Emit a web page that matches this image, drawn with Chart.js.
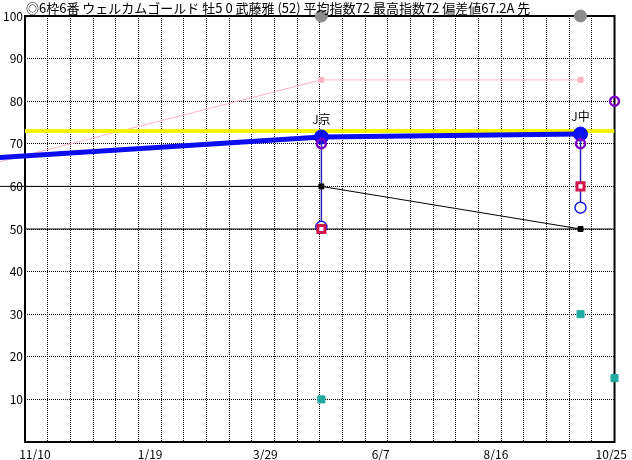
<!DOCTYPE html>
<html>
<head>
<meta charset="utf-8">
<script src="https://cdn.jsdelivr.net/npm/chart.js@4/dist/chart.umd.min.js"></script>
<style>
  html, body { margin: 0; padding: 0; background: #fff; }
  canvas { display: block; }
</style>
</head>
<body>
<canvas id="indexChart" width="632" height="460"></canvas>
<script>
// Days counted from 11/4 (left edge of the plot)
const titleText = '◎6枠6番 ウェルカムゴールド 牡5 0 武藤雅 (52) 平均指数72 最高指数72 偏差値67.2A 先';
const prevDay = -63;          // earlier race, off the left edge
const raceDays = [183, 343];
const nowDay = 364;
const raceLabels = ['J京', 'J中'];

const prevIndex = 65.6;
const raceIndex = [71.6, 72.3];     // thick blue line
const rangeLow = [50.5, 55];        // open blue circles
const purpleVals = [70, 70, 80];    // race 1, race 2, now
const redVals = [50, 60];
const blackVals = [60, 60, 50];     // prev, race 1, race 2
const tealVals = [10, 30, 15];      // race 1, race 2, now
const pinkVals = [61.2, 85, 85];    // prev, race 1, race 2
const topMarks = [100, 100];
const yellowLevel = 73;
const baseLevel = 50;

const dateLabels = ['11/10', '1/19', '3/29', '6/7', '8/16', '10/25'];
const labelDays = [6, 76, 146, 216, 286, 356];

const FONT = '"Noto Sans CJK JP", "Noto Sans", sans-serif';

const blueLine = [prevDay, ...raceDays].map((d, i) => ({x: d, y: [prevIndex, ...raceIndex][i]}));
const blackLine = [prevDay, ...raceDays].map((d, i) => ({x: d, y: blackVals[i]}));
const pinkLine = [prevDay, ...raceDays].map((d, i) => ({x: d, y: pinkVals[i]}));
const ranges = raceDays.flatMap((d, i) => [{x: d, y: raceIndex[i]}, {x: d, y: rangeLow[i]}, {x: d, y: null}]);

// frame round the plot area, drawn under the marks
const framePlugin = {
    id: 'frame',
    beforeDatasetsDraw(chart) {
        const {ctx, chartArea: a} = chart;
        ctx.save();
        ctx.strokeStyle = '#000';
        ctx.lineWidth = 2;
        ctx.strokeRect(a.left, a.top, a.right - a.left, a.bottom - a.top);
        ctx.restore();
    }
};

// header line and course labels above the race points
const textPlugin = {
    id: 'texts',
    afterDatasetsDraw(chart) {
        const {ctx, scales} = chart;
        ctx.save();
        ctx.fillStyle = '#000';
        ctx.textBaseline = 'middle';
        ctx.textAlign = 'left';
        ctx.font = '13px ' + FONT;
        ctx.fillText(titleText, 26, 8);
        ctx.font = '12px ' + FONT;
        ctx.textAlign = 'center';
        raceDays.forEach((d, i) => {
            ctx.fillText(raceLabels[i], scales.x.getPixelForValue(d), scales.y.getPixelForValue(raceIndex[i]) - 18);
        });
        ctx.restore();
    }
};

const sideClip = {left: 30, top: 0, right: 0, bottom: 0};

new Chart(document.getElementById('indexChart'), {
    type: 'line',
    data: {
        datasets: [
            { // red squares
                data: raceDays.map((d, i) => ({x: d, y: redVals[i]})),
                showLine: false, pointStyle: 'rect', pointRadius: 5,
                borderColor: '#d0184c', backgroundColor: '#fff', borderWidth: 3, clip: false
            },
            { // open blue circles
                data: raceDays.map((d, i) => ({x: d, y: rangeLow[i]})),
                showLine: false, pointRadius: 5.5,
                borderColor: '#1414e0', backgroundColor: '#fff', borderWidth: 1.5, clip: false
            },
            { // purple rings
                data: [...raceDays, nowDay].map((d, i) => ({x: d, y: purpleVals[i]})),
                showLine: false, pointRadius: 4.5,
                borderColor: '#8000c8', backgroundColor: 'rgba(0,0,0,0)', borderWidth: 2.5, clip: false
            },
            { // black line
                data: blackLine, borderColor: '#000', borderWidth: 1,
                pointStyle: 'rect', pointRadius: [0, 3.5, 3.5], backgroundColor: '#000',
                pointBorderWidth: 1, clip: sideClip
            },
            { // teal squares
                data: [...raceDays, nowDay].map((d, i) => ({x: d, y: tealVals[i]})),
                showLine: false, pointStyle: 'rect', pointRadius: 5,
                borderColor: '#20aaa0', backgroundColor: '#20aaa0', borderWidth: 1, clip: false
            },
            { // race ranges
                data: ranges, borderColor: '#2828b4', borderWidth: 1.5,
                pointRadius: 0, spanGaps: false, clip: false
            },
            { // thick blue index line
                data: blueLine, borderColor: '#0c0cf0', borderWidth: 5,
                pointRadius: [0, 7, 7], backgroundColor: '#1010f4', pointBorderColor: '#0c0cf0',
                pointBorderWidth: 1, clip: sideClip
            },
            { // yellow level
                data: [{x: 0, y: yellowLevel}, {x: nowDay, y: yellowLevel}],
                borderColor: '#f4f400', borderWidth: 4, pointRadius: 0
            },
            { // grey marks on the top edge
                data: raceDays.map((d, i) => ({x: d, y: topMarks[i]})),
                showLine: false, pointRadius: 6,
                borderColor: '#8c8c8c', backgroundColor: '#8c8c8c', borderWidth: 1, clip: false
            },
            { // pink line
                data: pinkLine, borderColor: '#ffb4c6', borderWidth: 1,
                pointStyle: 'rect', pointRadius: [0, 3.5, 3.5], backgroundColor: '#ffb4c6',
                pointBorderWidth: 1, clip: sideClip
            },
            { // base level
                data: [{x: 0, y: baseLevel}, {x: nowDay, y: baseLevel}],
                borderColor: '#000', borderWidth: 1, pointRadius: 0
            }
        ]
    },
    options: {
        responsive: false,
        animation: false,
        devicePixelRatio: 1,
        layout: { padding: {top: 16, right: 15, left: 0, bottom: 0} },
        plugins: { legend: {display: false}, tooltip: {enabled: false}, title: {display: false} },
        elements: { line: {tension: 0} },
        scales: {
            x: {
                type: 'linear', min: 0, max: nowDay,
                ticks: {display: false, stepSize: 14},
                grid: {color: '#000', lineWidth: 1, drawTicks: false},
                border: {display: false, dash: [1, 1]},
                afterFit(scale) { scale.height = 0; }
            },
            xl: {
                type: 'linear', position: 'bottom', min: 0, max: 358,
                afterBuildTicks(scale) { scale.ticks = labelDays.map(v => ({value: v})); },
                ticks: {
                    autoSkip: false, maxRotation: 0, padding: 5, color: '#000',
                    font: {family: FONT, size: 12},
                    callback: (v, i) => dateLabels[i]
                },
                grid: {display: false, drawTicks: false},
                border: {display: false},
                afterFit(scale) { scale.height = 18; }
            },
            y: {
                type: 'linear', min: 0, max: 100,
                ticks: {
                    stepSize: 10, padding: 2, color: '#000',
                    font: {family: FONT, size: 12},
                    callback: v => (v === 0 ? '' : v)
                },
                grid: {color: '#000', lineWidth: 1, drawTicks: false},
                border: {display: false, dash: [1, 1]},
                afterFit(scale) { scale.width = 25; }
            }
        }
    },
    plugins: [framePlugin, textPlugin]
});
</script>
</body>
</html>
